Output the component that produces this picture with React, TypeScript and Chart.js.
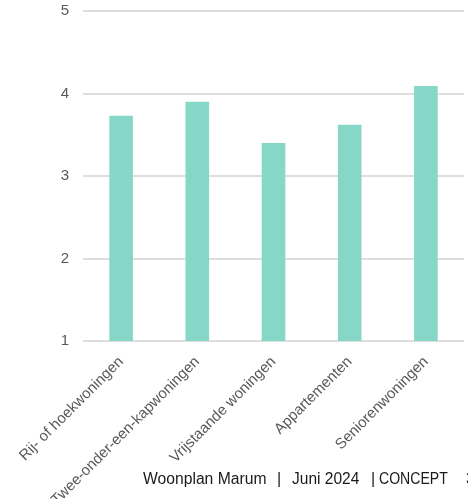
import React, { useEffect, useRef } from "react";
import { Chart, registerables } from "chart.js";

Chart.register(...registerables);

const categories = [
  "Rij- of hoekwoningen",
  "Twee-onder-een-kapwoningen",
  "Vrijstaande woningen",
  "Appartementen",
  "Seniorenwoningen",
];
const scores = [3.73, 3.9, 3.4, 3.62, 4.09];
const yMin = 1;
const yMax = 5;
const yStep = 1;

const footerParts = [
  { text: "Woonplan Marum", left: 143, scale: 0.98 },
  { text: "|", left: 277, scale: 1 },
  { text: "Juni 2024", left: 292, scale: 0.97 },
  { text: "|", left: 371, scale: 1 },
  { text: "CONCEPT", left: 379, scale: 0.88 },
  { text: "3", left: 466, scale: 1 },
];

const FONT = "'Liberation Sans', Arial, sans-serif";

export default function App() {
  const canvasRef = useRef<HTMLCanvasElement | null>(null);

  useEffect(() => {
    const canvas = canvasRef.current;
    if (!canvas) return;
    const chart = new Chart(canvas, {
      type: "bar",
      data: {
        labels: categories,
        datasets: [
          {
            data: scores,
            backgroundColor: "#87d7c9",
            borderWidth: 0,
            barPercentage: 0.31,
            categoryPercentage: 1,
          },
        ],
      },
      options: {
        responsive: false,
        animation: false,
        devicePixelRatio: 1,
        layout: { padding: { top: 11, right: 4, left: 0, bottom: 0 } },
        plugins: {
          legend: { display: false },
          tooltip: { enabled: false },
        },
        scales: {
          y: {
            min: yMin,
            max: yMax,
            ticks: {
              stepSize: yStep,
              color: "#595959",
              font: { family: FONT, size: 15 },
              padding: 14,
            },
            grid: {
              color: "#dedede",
              lineWidth: 2,
              drawTicks: false,
            },
            border: { display: false },
            afterFit: (s: any) => {
              s.width = 83;
              s.paddingTop = 0;
              s.paddingBottom = 0;
            },
          },
          x: {
            grid: { display: false, drawTicks: false },
            border: { display: false },
            ticks: {
              color: "#595959",
              font: { family: FONT, size: 15 },
              maxRotation: 45,
              minRotation: 45,
              autoSkip: false,
              padding: 12,
            },
            afterFit: (s: any) => {
              s.height = 158;
            },
          },
        },
      },
    });
    return () => chart.destroy();
  }, []);

  return (
    <div
      style={{
        position: "fixed",
        left: 0,
        top: 0,
        width: 468,
        height: 499,
        overflow: "hidden",
        background: "#ffffff",
      }}
    >
      <canvas
        ref={canvasRef}
        width={468}
        height={499}
        style={{ position: "absolute", left: 0, top: 0, width: 468, height: 499 }}
      />
      {footerParts.map((p, i) => (
        <div
          key={i}
          style={{
            position: "absolute",
            left: p.left,
            top: 471,
            fontFamily: FONT,
            fontSize: 16,
            lineHeight: "16px",
            color: "#1a1a1a",
            whiteSpace: "pre",
            transform: `scaleX(${p.scale})`,
            transformOrigin: "left center",
          }}
        >
          {p.text}
        </div>
      ))}
    </div>
  );
}
